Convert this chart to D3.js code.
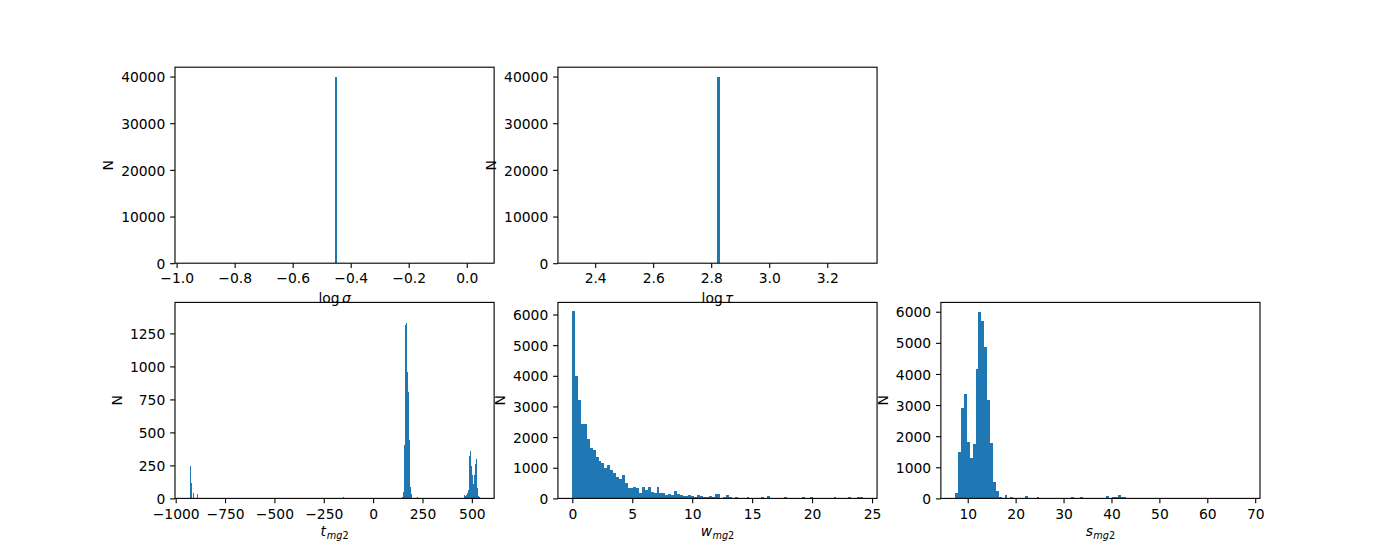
<!DOCTYPE html>
<html><head><meta charset="utf-8">
<script src="https://cdn.jsdelivr.net/npm/d3@7"></script>
<style>
body{margin:0;background:#fff}
svg{display:block}
text{font-family:"DejaVu Sans",sans-serif}
</style>
</head><body>
<svg id="c" width="1400" height="560"></svg>
<script>
// ---------------- DATA ----------------
// log sigma: all samples in one bin
const sigmaBinStart = -0.4556;
const sigmaBinWidth = 0.0072;
const sigmaCounts = [40000];

// log tau: all samples in one bin
const tauBinStart = 2.8217;
const tauBinWidth = 0.0072;
const tauCounts = [40000];

// t_mg2: sparse histogram (bin index -> count)
const tBinStart = -930;
const tBinWidth = 4.898;
const tBinIndex = [0, 1, 2, 4, 8, 159, 220, 221, 222, 223, 224, 225, 226, 227, 228, 229, 235,
  284, 285, 286, 287, 288, 289, 290, 291, 292, 293, 294, 295, 296, 297, 298, 299];
const tCounts = [243, 46, 114, 38, 30, 10, 10, 46, 402, 1314, 1329, 960, 805, 440, 84, 30, 10,
  23, 15, 23, 38, 61, 319, 357, 243, 175, 106, 175, 258, 296, 76, 15, 8];

// w_mg2: 100 bins
const wBinStart = 0.01;
const wBinWidth = 0.242;
const wCounts = [6100, 4000, 3210, 2430, 2430, 1930, 1640, 1580, 1350, 1210,
  1150, 990, 1080, 920, 820, 690, 620, 760, 490, 350,
  330, 360, 330, 160, 360, 260, 360, 200, 160, 360,
  160, 160, 98, 131, 98, 230, 131, 98, 66, 66,
  98, 66, 33, 98, 66, 33, 33, 66, 33, 131,
  131, 0, 33, 98, 33, 0, 33, 0, 0, 0,
  33, 0, 0, 0, 0, 33, 0, 66, 0, 0,
  0, 0, 0, 33, 0, 0, 0, 0, 0, 33,
  0, 0, 33, 0, 0, 0, 0, 0, 0, 0,
  33, 0, 0, 0, 0, 33, 0, 0, 33, 33];

// s_mg2: 100 bins
const sBinStart = 7.4;
const sBinWidth = 0.6056;
const sCounts = [161, 1480, 2897, 3348, 1803, 1288, 1738, 4152, 5987, 5697,
  4860, 3155, 1770, 515, 225, 32, 0, 97, 0, 32,
  0, 0, 0, 0, 64, 0, 0, 0, 32, 0,
  0, 0, 0, 0, 0, 0, 0, 0, 0, 0,
  32, 0, 0, 32, 0, 0, 0, 0, 0, 0,
  0, 0, 64, 0, 32, 32, 97, 32, 32, 0,
  0, 0, 0, 0, 0, 0, 0, 0, 0, 0,
  0, 0, 0, 0, 0, 0, 0, 0, 0, 0,
  0, 0, 0, 0, 0, 0, 0, 0, 0, 0,
  0, 0, 0, 0, 0, 0, 0, 0, 0, 2];

// tick values
const sigmaTicks = [-1.0, -0.8, -0.6, -0.4, -0.2, 0.0];
const tauTicks = [2.4, 2.6, 2.8, 3.0, 3.2];
const tTicks = [-1000, -750, -500, -250, 0, 250, 500];
const wTicks = [0, 5, 10, 15, 20, 25];
const sTicks = [10, 20, 30, 40, 50, 60, 70];
const nTicks40k = [0, 10000, 20000, 30000, 40000];
const nTicksT = [0, 250, 500, 750, 1000, 1250];
const nTicks6k = [0, 1000, 2000, 3000, 4000, 5000, 6000];

// axis limits
const sigmaXLim = [-1.0056, 0.0944];
const tauXLim = [2.2717, 3.3717];
const tXLim = [-1003.5, 612.8];
const wXLim = [-1.2, 25.42];
const sXLim = [4.4, 71.0];
const yLim40k = [0, 42000];
const yLimT = [0, 1485];
const yLimW = [0, 6395];
const yLimS = [0, 6300];

// ---------------- LAYOUT ----------------
const FS = 13.89;
const BLUE = "#1f77b4";
const LW = 1.11;
const figL = 175, figR = 1260, figT = 67.2, figB = 498.4;
const axW = (figR - figL) / (3 + 2 * 0.2);
const gapW = 0.2 * axW;
const axH = (figB - figT) / (2 + 0.2);
const gapH = 0.2 * axH;

const svg = d3.select("#c");
svg.append("rect").attr("width", 1400).attr("height", 560).attr("fill", "#fff");

const panels = [
  {row: 0, col: 0, start: sigmaBinStart, bw: sigmaBinWidth, idx: null, counts: sigmaCounts,
   xlim: sigmaXLim, ylim: yLim40k, xt: sigmaTicks, xf: d3.format(".1f"), yt: nTicks40k,
   label: [{t: "log"}, {t: "σ", it: true, dx: 2.3}], lbOff: 39.8},
  {row: 0, col: 1, start: tauBinStart, bw: tauBinWidth, idx: null, counts: tauCounts,
   xlim: tauXLim, ylim: yLim40k, xt: tauTicks, xf: d3.format(".1f"), yt: nTicks40k,
   label: [{t: "log"}, {t: "τ", it: true, dx: 2.3}], lbOff: 39.8},
  {row: 1, col: 0, start: tBinStart, bw: tBinWidth, idx: tBinIndex, counts: tCounts,
   xlim: tXLim, ylim: yLimT, xt: tTicks, xf: d3.format("d"), yt: nTicksT,
   label: [{t: "t", it: true}, {t: "mg", it: true, sub: true, dx: 0.8}, {t: "2", sub: true}], lbOff: 38.0},
  {row: 1, col: 1, start: wBinStart, bw: wBinWidth, idx: null, counts: wCounts,
   xlim: wXLim, ylim: yLimW, xt: wTicks, xf: d3.format("d"), yt: nTicks6k,
   label: [{t: "w", it: true}, {t: "mg", it: true, sub: true, dx: 0.3}, {t: "2", sub: true}], lbOff: 37.4},
  {row: 1, col: 2, start: sBinStart, bw: sBinWidth, idx: null, counts: sCounts,
   xlim: sXLim, ylim: yLimS, xt: sTicks, xf: d3.format("d"), yt: nTicks6k,
   label: [{t: "s", it: true}, {t: "mg", it: true, sub: true, dx: 0.3}, {t: "2", sub: true}], lbOff: 37.4}
];

panels.forEach(p => {
  const x0 = figL + p.col * (axW + gapW);
  const y0 = figT + p.row * (axH + gapH);
  const g = svg.append("g").attr("transform", `translate(${x0},${y0})`);
  const x = d3.scaleLinear().domain(p.xlim).range([0, axW]);
  const y = d3.scaleLinear().domain(p.ylim).range([axH, 0]);

  const bins = p.counts.map((n, i) => {
    const k = p.idx ? p.idx[i] : i;
    return {a: p.start + k * p.bw, b: p.start + (k + 1) * p.bw, n};
  }).filter(d => d.n > 0);

  g.append("g").selectAll("rect").data(bins).join("rect")
    .attr("x", d => x(d.a))
    .attr("width", d => Math.max(1, x(d.b) - x(d.a)))
    .attr("y", d => y(d.n))
    .attr("height", d => y(0) - y(d.n))
    .attr("fill", BLUE)
    .attr("shape-rendering", "crispEdges");

  // x axis
  const xa = g.append("g").attr("transform", `translate(0,${axH})`)
    .call(d3.axisBottom(x).tickValues(p.xt).tickFormat(p.xf)
      .tickSize(4.86).tickPadding(5.5).tickSizeOuter(0));
  // y axis
  const ya = g.append("g")
    .call(d3.axisLeft(y).tickValues(p.yt).tickFormat(d3.format("d"))
      .tickSize(4.86).tickPadding(4.86).tickSizeOuter(0));
  [xa, ya].forEach(a => {
    a.select(".domain").remove();
    a.attr("font-family", null).attr("font-size", null);
    a.selectAll("line").attr("stroke", "#000").attr("stroke-width", LW);
    a.selectAll("text").attr("fill", "#000").style("font-size", FS + "px")
      .style("font-family", "'DejaVu Sans', sans-serif");
  });
  ya.selectAll("text").attr("dy", "0.37em");

  // spines
  g.append("rect").attr("x", 0).attr("y", 0).attr("width", axW).attr("height", axH)
    .attr("fill", "none").attr("stroke", "#000").attr("stroke-width", LW);

  // y label
  let minX = 0;
  ya.selectAll("text").each(function () {
    const bb = this.getBBox();
    minX = Math.min(minX, bb.x);
  });
  g.append("text")
    .attr("transform", `translate(${minX - 5.56 - 2.4},${axH / 2}) rotate(-90)`)
    .attr("text-anchor", "middle")
    .style("font-size", FS + "px")
    .attr("fill", "#000")
    .text("N");

  // x label
  const xl = g.append("text")
    .attr("x", axW / 2).attr("y", axH + p.lbOff)
    .attr("text-anchor", "middle")
    .style("font-size", FS + "px")
    .attr("fill", "#000");
  let wasSub = false;
  p.label.forEach(part => {
    const ts = xl.append("tspan").text(part.t);
    if (part.it) ts.attr("font-style", "italic");
    if (part.dx) ts.attr("dx", part.dx);
    if (part.sub) {
      ts.style("font-size", (FS * 0.7) + "px");
      if (!wasSub) ts.attr("dy", 3.0);
      wasSub = true;
    }
  });
});
</script>
</body></html>
